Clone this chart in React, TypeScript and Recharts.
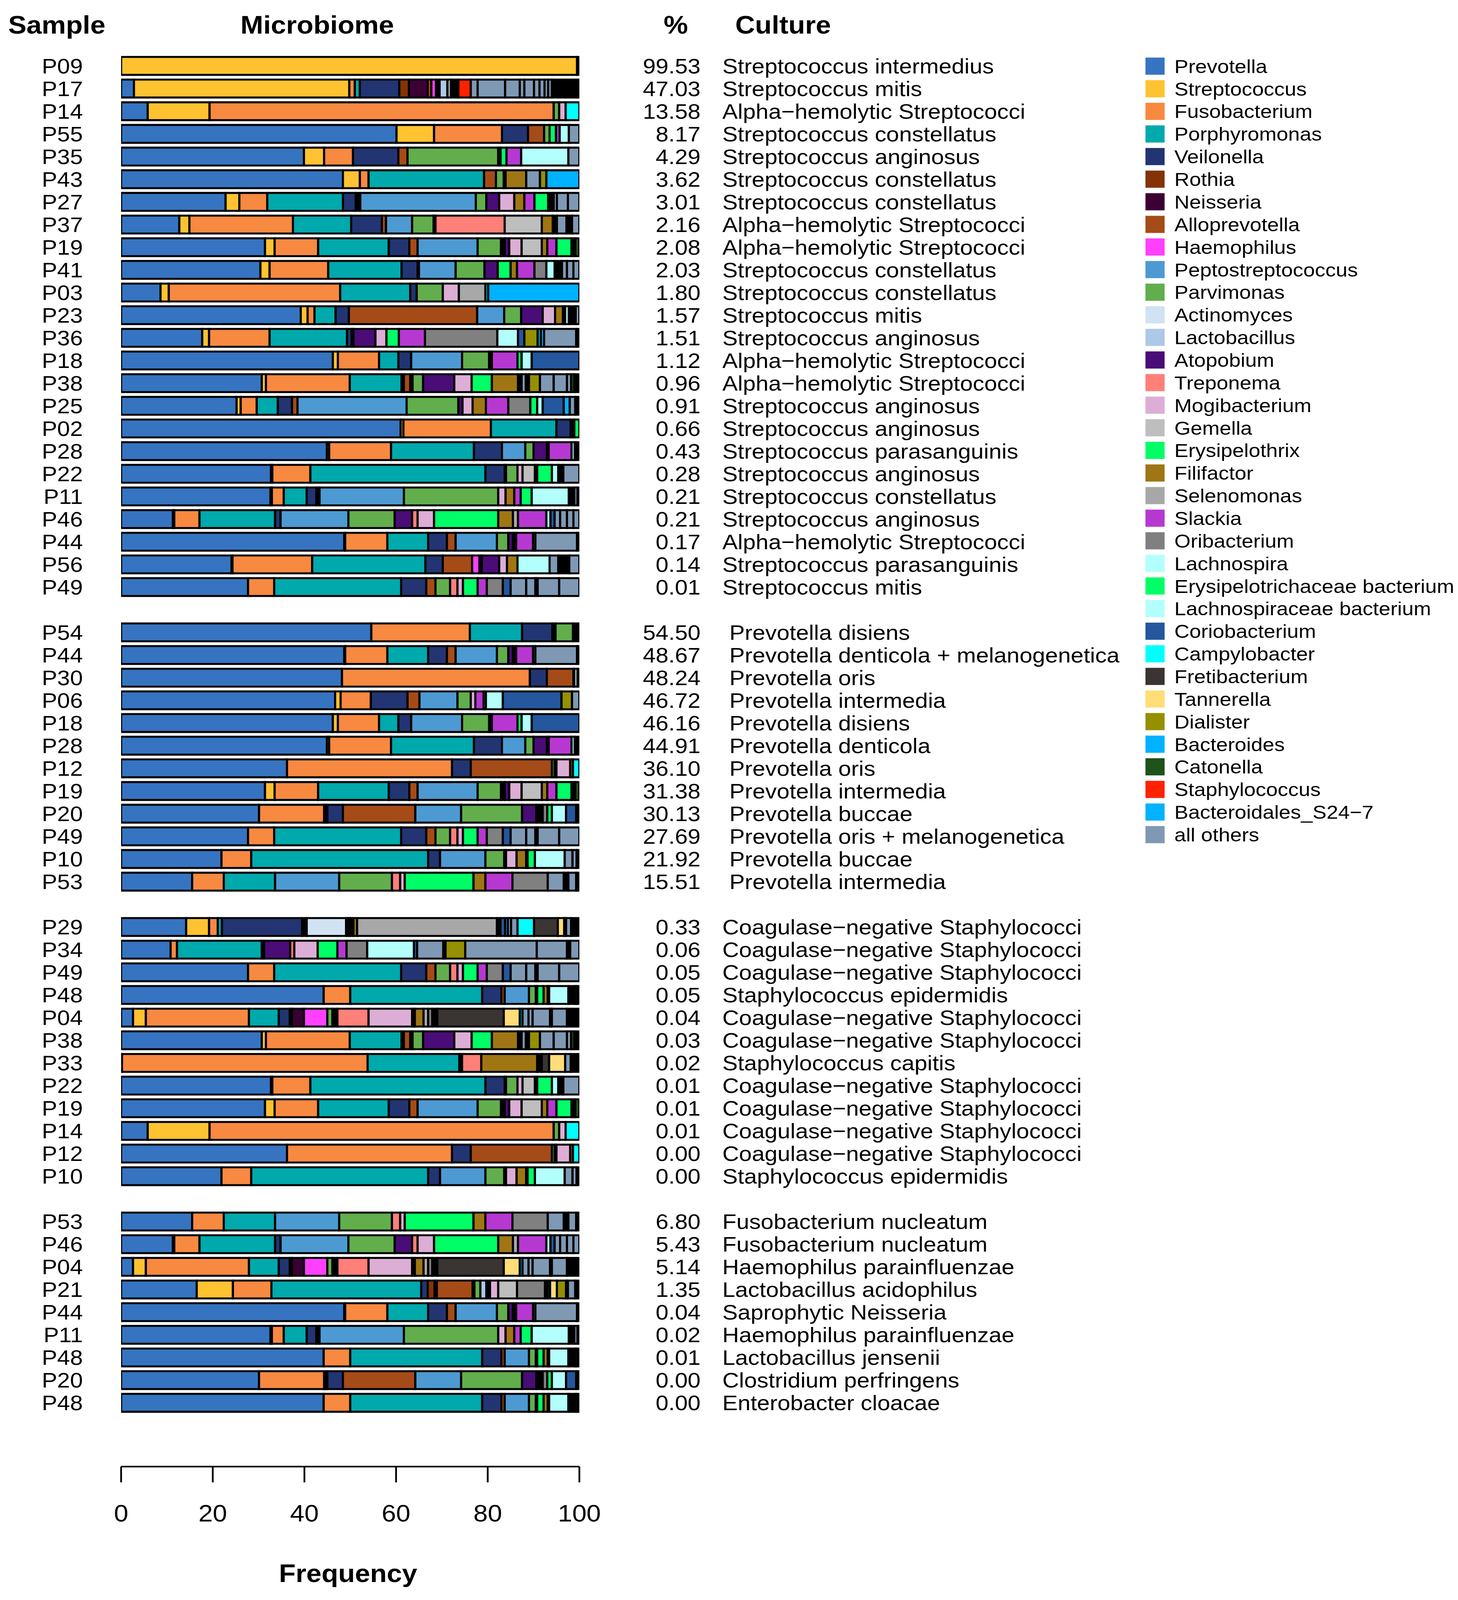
import React from 'react';
import { BarChart, Bar, XAxis, YAxis, Cell, Legend } from 'recharts';

// ---------- taxa (legend order) ----------
const taxa = [
  'Prevotella', 'Streptococcus', 'Fusobacterium', 'Porphyromonas', 'Veilonella', 'Rothia',
  'Neisseria', 'Alloprevotella', 'Haemophilus', 'Peptostreptococcus', 'Parvimonas',
  'Actinomyces', 'Lactobacillus', 'Atopobium', 'Treponema', 'Mogibacterium', 'Gemella',
  'Erysipelothrix', 'Filifactor', 'Selenomonas', 'Slackia', 'Oribacterium', 'Lachnospira',
  'Erysipelotrichaceae bacterium', 'Lachnospiraceae bacterium', 'Coriobacterium',
  'Campylobacter', 'Fretibacterium', 'Tannerella', 'Dialister', 'Bacteroides', 'Catonella',
  'Staphylococcus', 'Bacteroidales_S24\u22127', 'all others',
];
const taxonCodes = [
  'Pv', 'St', 'Fu', 'Po', 'Ve', 'Ro', 'Ne', 'Al', 'Ha', 'Pe', 'Pa', 'Ac', 'La', 'At', 'Tr',
  'Mo', 'Ge', 'Er', 'Fi', 'Se', 'Sl', 'Or', 'Lc', 'Eb', 'Lb', 'Co', 'Ca', 'Fr', 'Ta', 'Di',
  'Ba', 'Ct', 'Sa', 'Bs', 'Ot',
];
const taxaColors = [
  '#3674C1', '#FFC231', '#F88941', '#00A9AC', '#223572', '#843304', '#3B0033', '#A54B18',
  '#FF40FF', '#4D9AD3', '#62AE4D', '#D1E2F2', '#ADC8E8', '#4A0C76', '#FF7F79', '#DCAED6',
  '#BEBEBE', '#00FF66', '#A07614', '#A8A8A8', '#B638D1', '#808080', '#B3FFFB', '#00FF66',
  '#B3FFFB', '#24579D', '#00FFFF', '#3A3432', '#FFDD78', '#949000', '#00B2FF', '#1F521A',
  '#FF2200', '#00B2FF', '#7F99B4',
];
// 'Xx' = runs of many tiny taxa whose outlines merge into solid black
const minorCode = 'Xx';
const minorColor = '#000000';

// ---------- microbiome composition per sample (%), in drawing order ----------
type Seg = [string, number];
const P09: Seg[] = [['St', 99.5], ['Xx', 0.5]];
const P17: Seg[] = [['Pv', 2.8], ['St', 47.0], ['Fu', 1.2], ['Po', 1.1], ['Ve', 8.6], ['Ro', 2.1], ['Ne', 4.1], ['Al', 0.8], ['Ha', 1.0], ['Xx', 0.8], ['La', 1.7], ['Se', 0.8], ['Xx', 1.6], ['Sa', 2.7], ['Ot', 1.5], ['Ot', 6.0], ['Ot', 3.2], ['Ot', 1.0], ['Ot', 2.1], ['Ot', 1.2], ['Ot', 1.1], ['Ot', 0.8], ['Ot', 0.8], ['Xx', 6.0]];
const P14: Seg[] = [['Pv', 5.8], ['St', 13.5], ['Fu', 75.1], ['Pa', 1.2], ['Mo', 1.4], ['Ca', 3.0]];
const P55: Seg[] = [['Pv', 60.1], ['St', 8.2], ['Fu', 14.8], ['Ve', 5.7], ['Al', 3.5], ['Pa', 1.2], ['Er', 1.4], ['Sl', 0.8], ['Lc', 2.0], ['Ot', 2.3]];
const P35: Seg[] = [['Pv', 39.9], ['St', 4.4], ['Fu', 6.3], ['Ve', 9.9], ['Al', 2.0], ['Pa', 19.8], ['Xx', 0.5], ['Er', 1.3], ['Sl', 3.2], ['Lc', 10.3], ['Ot', 2.4]];
const P43: Seg[] = [['Pv', 48.4], ['St', 3.7], ['Fu', 1.9], ['Po', 25.2], ['Al', 2.6], ['Pa', 1.7], ['Xx', 0.4], ['Fi', 4.5], ['Ot', 3.0], ['Di', 1.4], ['Ba', 7.2]];
const P27: Seg[] = [['Pv', 22.8], ['St', 3.0], ['Fu', 6.1], ['Po', 16.5], ['Ve', 2.8], ['Xx', 1.0], ['Pe', 25.2], ['Pa', 2.3], ['At', 2.8], ['Mo', 3.3], ['Fi', 2.2], ['Sl', 2.2], ['Er', 3.0], ['Xx', 1.2], ['Ot', 0.7], ['Ot', 2.4], ['Ot', 2.5]];
const P37: Seg[] = [['Pv', 12.7], ['St', 2.2], ['Fu', 22.6], ['Po', 12.7], ['Ve', 6.7], ['Al', 0.9], ['Pe', 5.7], ['Pa', 4.7], ['Xx', 0.4], ['Tr', 15.1], ['Ge', 8.1], ['Fi', 2.4], ['Xx', 0.9], ['Ot', 2.1], ['Xx', 1.2], ['Ot', 1.6]];
const P19: Seg[] = [['Pv', 31.4], ['St', 2.1], ['Fu', 9.5], ['Po', 15.4], ['Ve', 4.5], ['Al', 1.8], ['Pe', 13.1], ['Pa', 5.1], ['Xx', 0.8], ['At', 1.0], ['Mo', 2.7], ['Ge', 4.4], ['Fi', 1.2], ['Sl', 2.0], ['Er', 3.3], ['Xx', 0.8], ['Ct', 0.9]];
const P41: Seg[] = [['Pv', 30.4], ['St', 2.0], ['Fu', 12.8], ['Po', 16.0], ['Ve', 3.5], ['Xx', 0.3], ['Pe', 8.0], ['Pa', 6.3], ['At', 2.9], ['Er', 2.8], ['Fi', 1.4], ['Sl', 3.8], ['Or', 2.6], ['Lc', 1.8], ['Xx', 1.6], ['Ot', 1.1], ['Ot', 1.4], ['Ot', 1.3]];
const P03: Seg[] = [['Pv', 8.6], ['St', 1.8], ['Fu', 37.4], ['Po', 15.3], ['Ve', 1.4], ['Pa', 5.7], ['Mo', 3.5], ['Se', 5.8], ['Ca', 0.6], ['Ba', 19.9]];
const P23: Seg[] = [['Pv', 39.2], ['St', 1.5], ['Fu', 1.5], ['Po', 4.6], ['Ve', 2.9], ['Al', 28.0], ['Pe', 5.9], ['Pa', 3.7], ['At', 4.7], ['Mo', 2.7], ['Fi', 1.7], ['Xx', 0.5], ['Lc', 0.8], ['Xx', 1.5], ['Ot', 0.8]];
const P36: Seg[] = [['Pv', 17.7], ['St', 1.5], ['Fu', 13.2], ['Po', 16.9], ['Ve', 1.0], ['Xx', 0.4], ['At', 4.8], ['Mo', 2.4], ['Er', 2.7], ['Sl', 5.7], ['Or', 15.8], ['Lc', 4.5], ['Co', 1.4], ['Di', 2.9], ['Ba', 0.7], ['Bs', 0.7], ['Ot', 7.0], ['Xx', 0.7]];
const P18: Seg[] = [['Pv', 46.2], ['St', 1.1], ['Fu', 9.0], ['Po', 4.2], ['Ve', 2.8], ['Pe', 11.1], ['Pa', 5.9], ['Xx', 0.6], ['Sl', 5.6], ['Eb', 0.9], ['Lb', 2.2], ['Co', 10.4]];
const P38: Seg[] = [['Pv', 30.7], ['St', 0.9], ['Fu', 18.3], ['Po', 11.3], ['Xx', 0.5], ['Al', 1.4], ['Ha', 0.5], ['Pa', 2.3], ['At', 6.8], ['Mo', 3.8], ['Er', 4.4], ['Fi', 5.7], ['Xx', 0.8], ['Ot', 0.9], ['Xx', 0.7], ['Di', 2.4], ['Ot', 3.0], ['Ot', 2.9], ['Ot', 0.9], ['Ct', 0.7], ['Xx', 1.1]];
const P25: Seg[] = [['Pv', 25.2], ['St', 0.9], ['Fu', 3.5], ['Po', 4.6], ['Ve', 3.1], ['Al', 1.2], ['Pe', 23.8], ['Pa', 11.3], ['At', 0.9], ['Mo', 2.2], ['Fi', 2.9], ['Sl', 4.9], ['Or', 4.8], ['Eb', 1.5], ['Lb', 1.2], ['Co', 4.6], ['Ba', 1.3], ['Ot', 1.2], ['Xx', 0.9]];
const P02: Seg[] = [['Pv', 61.0], ['St', 0.6], ['Fu', 19.1], ['Po', 14.3], ['Ve', 3.1], ['Xx', 0.8], ['Er', 1.1]];
const P28: Seg[] = [['Pv', 44.9], ['St', 0.5], ['Fu', 13.5], ['Po', 18.1], ['Ve', 6.1], ['Pe', 5.1], ['Pa', 1.8], ['At', 2.9], ['Xx', 0.4], ['Sl', 5.0], ['Lc', 0.7], ['Xx', 1.0]];
const P22: Seg[] = [['Pv', 32.7], ['St', 0.3], ['Fu', 8.3], ['Po', 38.2], ['Ve', 4.2], ['Xx', 0.3], ['Pa', 2.5], ['Mo', 1.1], ['Ge', 2.7], ['Xx', 0.5], ['Er', 3.2], ['Lc', 1.4], ['Xx', 1.1], ['Ot', 3.5]];
const P11: Seg[] = [['Pv', 32.6], ['St', 0.3], ['Fu', 2.6], ['Po', 5.0], ['Ve', 2.1], ['Xx', 0.7], ['Pe', 18.4], ['Pa', 20.6], ['Mo', 1.6], ['Fi', 1.9], ['Sl', 1.4], ['Er', 2.4], ['Lc', 8.1], ['Xx', 1.2], ['Ot', 0.7], ['Xx', 0.4]];
const P46: Seg[] = [['Pv', 11.3], ['St', 0.3], ['Fu', 5.5], ['Po', 16.5], ['Ve', 1.2], ['Pe', 14.8], ['Pa', 10.1], ['At', 3.8], ['Tr', 1.2], ['Mo', 3.6], ['Er', 14.0], ['Fi', 3.2], ['Se', 1.1], ['Sl', 6.2], ['Lc', 0.9], ['Co', 0.9], ['Ot', 1.2], ['Ot', 1.5], ['Ot', 1.4], ['Ot', 1.3]];
const P44: Seg[] = [['Pv', 48.7], ['St', 0.2], ['Fu', 9.2], ['Po', 8.9], ['Ve', 4.1], ['Al', 1.9], ['Pe', 9.0], ['Pa', 2.5], ['At', 1.0], ['Xx', 0.7], ['Sl', 3.7], ['Lc', 0.5], ['Ot', 9.1], ['Xx', 0.5]];
const P56: Seg[] = [['Pv', 24.1], ['St', 0.2], ['Fu', 17.4], ['Po', 24.7], ['Ve', 3.8], ['Al', 6.4], ['Ha', 1.6], ['Xx', 0.5], ['At', 3.8], ['Mo', 1.7], ['Fi', 2.3], ['Lc', 7.0], ['Ot', 1.9], ['Xx', 2.4], ['Ot', 2.2]];
const P49: Seg[] = [['Pv', 27.7], ['Fu', 5.7], ['Po', 27.7], ['Ve', 5.5], ['Al', 2.0], ['Pa', 3.2], ['Tr', 1.6], ['Mo', 1.2], ['Er', 3.2], ['Sl', 2.0], ['Or', 3.5], ['Co', 1.7], ['Ot', 3.4], ['Ot', 2.0], ['Xx', 0.5], ['Ot', 4.7], ['Ot', 4.4]];
const P54: Seg[] = [['Pv', 54.6], ['Fu', 21.5], ['Po', 11.4], ['Ve', 6.6], ['Xx', 0.7], ['Pa', 3.8], ['Xx', 1.4]];
const P30: Seg[] = [['Pv', 48.2], ['Fu', 41.0], ['Ve', 3.7], ['Al', 5.8], ['Xx', 0.2], ['Lc', 0.7], ['Xx', 0.4]];
const P06: Seg[] = [['Pv', 46.7], ['St', 1.2], ['Fu', 6.6], ['Ve', 8.0], ['Al', 2.6], ['Pe', 8.3], ['Pa', 2.9], ['Mo', 1.0], ['Sl', 1.8], ['Eb', 0.5], ['Lb', 3.7], ['Co', 12.8], ['Di', 2.3], ['Ot', 1.6]];
const P12: Seg[] = [['Pv', 36.2], ['Fu', 36.0], ['Ve', 4.1], ['Al', 17.7], ['Pa', 0.6], ['Xx', 0.4], ['Mo', 3.0], ['Fi', 0.6], ['Ca', 1.4]];
const P20: Seg[] = [['Pv', 30.1], ['Fu', 14.2], ['Po', 0.4], ['Xx', 0.3], ['Ve', 3.4], ['Al', 15.8], ['Pe', 10.0], ['Pa', 13.3], ['At', 3.1], ['Xx', 1.4], ['Or', 1.0], ['Er', 1.0], ['Lc', 3.1], ['Co', 2.2], ['Xx', 0.7]];
const P10: Seg[] = [['Pv', 21.9], ['Fu', 6.5], ['Po', 38.6], ['Ve', 2.6], ['Pe', 9.9], ['Pa', 4.1], ['Xx', 0.4], ['Mo', 2.3], ['Fi', 2.1], ['Xx', 0.3], ['Er', 1.6], ['Lc', 6.5], ['Ot', 1.7], ['Ot', 0.9], ['Xx', 0.6]];
const P53: Seg[] = [['Pv', 15.5], ['Fu', 6.9], ['Po', 11.2], ['Pe', 14.0], ['Pa', 11.5], ['Tr', 1.8], ['Mo', 1.0], ['Er', 15.0], ['Fi', 2.6], ['Sl', 5.9], ['Or', 7.7], ['Ot', 3.5], ['Xx', 1.0], ['Ot', 1.7], ['Xx', 0.7]];
const P29: Seg[] = [['Pv', 14.2], ['St', 5.0], ['Fu', 1.9], ['Po', 0.9], ['Ve', 17.5], ['Xx', 1.0], ['Ac', 8.6], ['At', 0.5], ['Tr', 0.4], ['Xx', 0.7], ['Fi', 0.8], ['Se', 30.5], ['Xx', 0.8], ['Co', 1.0], ['Ba', 0.6], ['Ot', 0.7], ['Ot', 1.4], ['Ca', 3.6], ['Fr', 5.2], ['Ta', 1.4], ['Xx', 0.4], ['Ot', 1.1], ['Xx', 1.8]];
const P34: Seg[] = [['Pv', 10.8], ['Fu', 1.4], ['Po', 18.5], ['Xx', 0.5], ['At', 5.7], ['Tr', 0.9], ['Mo', 5.1], ['Er', 4.3], ['Sl', 2.0], ['Or', 4.5], ['Lc', 10.2], ['Co', 0.7], ['Ot', 5.7], ['Xx', 0.5], ['Di', 4.3], ['Ot', 15.6], ['Ot', 6.6], ['Xx', 0.7], ['Ot', 2.0]];
const P48: Seg[] = [['Pv', 44.2], ['Fu', 5.8], ['Po', 28.8], ['Ve', 4.2], ['Al', 0.7], ['Pe', 5.3], ['Pa', 1.5], ['Xx', 0.3], ['Er', 1.4], ['Fi', 0.9], ['Xx', 0.3], ['Lc', 4.2], ['Xx', 1.4], ['Ot', 0.5], ['Xx', 0.5]];
const P04: Seg[] = [['Pv', 2.6], ['St', 2.8], ['Fu', 22.5], ['Po', 6.5], ['Ve', 2.4], ['Xx', 0.5], ['Ne', 2.6], ['Ha', 5.1], ['Pa', 1.1], ['Xx', 1.1], ['Tr', 6.8], ['Mo', 9.5], ['Xx', 0.6], ['Fi', 1.9], ['Se', 1.0], ['Or', 0.9], ['Xx', 1.1], ['Fr', 14.5], ['Ta', 3.5], ['Ba', 0.6], ['Ot', 1.3], ['Ot', 0.9], ['Ot', 3.8], ['Xx', 0.4], ['Ot', 3.3], ['Xx', 2.7]];
const P33: Seg[] = [['Pv', 0.2], ['Fu', 53.6], ['Po', 20.0], ['Xx', 0.6], ['Tr', 4.2], ['Fi', 12.2], ['Xx', 1.0], ['Fr', 1.6], ['Ta', 3.5], ['Ot', 1.2], ['Xx', 1.9]];
const P21: Seg[] = [['Pv', 16.5], ['St', 7.9], ['Fu', 8.4], ['Po', 32.7], ['Ve', 1.4], ['Ro', 1.5], ['Xx', 0.5], ['Al', 7.8], ['Xx', 0.4], ['Pa', 1.3], ['La', 1.3], ['Xx', 0.8], ['Mo', 1.8], ['Ge', 4.1], ['Or', 6.1], ['Xx', 0.6], ['Ca', 0.5], ['Ta', 1.5], ['Di', 2.0], ['Xx', 0.4], ['Ot', 1.6], ['Xx', 0.9]];

const compositions: Record<string, Seg[]> = {
  P09, P17, P14, P55, P35, P43, P27, P37, P19, P41, P03, P23, P36, P18, P38, P25, P02, P28,
  P22, P11, P46, P44, P56, P49, P54, P30, P06, P12, P20, P10, P53, P29, P34, P48, P04, P33, P21,
};

// ---------- row groups: sample, culture %, culture organism ----------
const group1Samples = ['P09', 'P17', 'P14', 'P55', 'P35', 'P43', 'P27', 'P37', 'P19', 'P41', 'P03', 'P23', 'P36', 'P18', 'P38', 'P25', 'P02', 'P28', 'P22', 'P11', 'P46', 'P44', 'P56', 'P49'];
const group1Percent = [99.53, 47.03, 13.58, 8.17, 4.29, 3.62, 3.01, 2.16, 2.08, 2.03, 1.80, 1.57, 1.51, 1.12, 0.96, 0.91, 0.66, 0.43, 0.28, 0.21, 0.21, 0.17, 0.14, 0.01];
const group1Culture = [
  'Streptococcus intermedius', 'Streptococcus mitis', 'Alpha\u2212hemolytic Streptococci',
  'Streptococcus constellatus', 'Streptococcus anginosus', 'Streptococcus constellatus',
  'Streptococcus constellatus', 'Alpha\u2212hemolytic Streptococci', 'Alpha\u2212hemolytic Streptococci',
  'Streptococcus constellatus', 'Streptococcus constellatus', 'Streptococcus mitis',
  'Streptococcus anginosus', 'Alpha\u2212hemolytic Streptococci', 'Alpha\u2212hemolytic Streptococci',
  'Streptococcus anginosus', 'Streptococcus anginosus', 'Streptococcus parasanguinis',
  'Streptococcus anginosus', 'Streptococcus constellatus', 'Streptococcus anginosus',
  'Alpha\u2212hemolytic Streptococci', 'Streptococcus parasanguinis', 'Streptococcus mitis',
];
const group2Samples = ['P54', 'P44', 'P30', 'P06', 'P18', 'P28', 'P12', 'P19', 'P20', 'P49', 'P10', 'P53'];
const group2Percent = [54.50, 48.67, 48.24, 46.72, 46.16, 44.91, 36.10, 31.38, 30.13, 27.69, 21.92, 15.51];
const group2Culture = [
  'Prevotella disiens', 'Prevotella denticola + melanogenetica', 'Prevotella oris',
  'Prevotella intermedia', 'Prevotella disiens', 'Prevotella denticola', 'Prevotella oris',
  'Prevotella intermedia', 'Prevotella buccae', 'Prevotella oris + melanogenetica',
  'Prevotella buccae', 'Prevotella intermedia',
];
const CNS = 'Coagulase\u2212negative Staphylococci';
const group3Samples = ['P29', 'P34', 'P49', 'P48', 'P04', 'P38', 'P33', 'P22', 'P19', 'P14', 'P12', 'P10'];
const group3Percent = [0.33, 0.06, 0.05, 0.05, 0.04, 0.03, 0.02, 0.01, 0.01, 0.01, 0.00, 0.00];
const group3Culture = [CNS, CNS, CNS, 'Staphylococcus epidermidis', CNS, CNS, 'Staphylococcus capitis', CNS, CNS, CNS, CNS, 'Staphylococcus epidermidis'];
const group4Samples = ['P53', 'P46', 'P04', 'P21', 'P44', 'P11', 'P48', 'P20', 'P48'];
const group4Percent = [6.80, 5.43, 5.14, 1.35, 0.04, 0.02, 0.01, 0.00, 0.00];
const group4Culture = [
  'Fusobacterium nucleatum', 'Fusobacterium nucleatum', 'Haemophilus parainfluenzae',
  'Lactobacillus acidophilus', 'Saprophytic Neisseria', 'Haemophilus parainfluenzae',
  'Lactobacillus jensenii', 'Clostridium perfringens', 'Enterobacter cloacae',
];
const xTicks = [0, 20, 40, 60, 80, 100];

// ---------- layout constants ----------
const W = 3732;
const H = 4474;
const FONT = '"Liberation Sans", Arial, Helvetica, sans-serif';
const ROW_FONT = 59;
const SAMPLE_X = 212;
const PCT_X = 1793;
const CULTURE_X = [1849, 1867, 1849, 1849];

const colorOf = (code: string) =>
  code === minorCode ? minorColor : taxaColors[taxonCodes.indexOf(code)];

const groups = [
  { samples: group1Samples, pct: group1Percent, culture: group1Culture },
  { samples: group2Samples, pct: group2Percent, culture: group2Culture },
  { samples: group3Samples, pct: group3Percent, culture: group3Culture },
  { samples: group4Samples, pct: group4Percent, culture: group4Culture },
];

const rows: any[] = [];
groups.forEach((g, gi) => {
  if (gi > 0) rows.push({ id: `gap${gi}`, gap: true });
  g.samples.forEach((s, i) => {
    const row: any = { id: `r${gi}_${i}`, sample: s, pct: g.pct[i], culture: g.culture[i], cx: CULTURE_X[gi] };
    (compositions[s] || []).forEach(([code, v], k) => {
      row[`s${k}`] = v;
      row[`c${k}`] = colorOf(code);
    });
    rows.push(row);
  });
});
const rowById: Record<string, any> = {};
rows.forEach((r) => { rowById[r.id] = r; });
const maxSegs = Math.max(...Object.values(compositions).map((c) => c.length));

const RowTick = (props: any) => {
  const { y, payload } = props;
  const r = rowById[payload?.value];
  if (!r || r.gap) return <g />;
  const base = y + 21;
  return (
    <g>
      <text x={SAMPLE_X} y={base} textAnchor="end" fontSize={ROW_FONT} fontFamily={FONT} fill="#000">{r.sample}</text>
      <text x={PCT_X} y={base} textAnchor="end" fontSize={ROW_FONT} fontFamily={FONT} fill="#000">{r.pct.toFixed(2)}</text>
      <text x={r.cx} y={base} textAnchor="start" fontSize={ROW_FONT} fontFamily={FONT} fill="#000">{r.culture}</text>
    </g>
  );
};

const XTick = (props: any) => {
  const { x, payload } = props;
  return (
    <text x={x} y={4254} textAnchor="middle" fontSize={66} fontFamily={FONT} fill="#000">{payload.value}</text>
  );
};

const LegendBlock = () => (
  <svg width={832} height={2300} style={{ display: 'block' }}>
    {taxa.map((t, i) => {
      const cy = 45 + i * 63.2;
      return (
        <g key={t}>
          <rect x={32} y={cy - 24} width={49} height={48} fill={taxaColors[i]} />
          <text x={106} y={cy + 19} fontSize={53.5} fontFamily={FONT} fill="#000">{t}</text>
        </g>
      );
    })}
  </svg>
);

export default function App() {
  // The page viewport may be shorter than the 4474px design; fit the design vertically.
  const viewH = typeof window !== 'undefined' && window.innerHeight > 0 ? window.innerHeight : H;
  const sy = Math.min(1, viewH / H);
  return (
    <div style={{ width: W, height: Math.floor(H * sy), overflow: 'hidden', background: '#fff' }}>
      <style>{'html,body{margin:0;background:#fff;overflow:hidden}'}</style>
      <div
        style={{
          position: 'relative',
          width: W,
          height: H,
          background: '#fff',
          fontFamily: FONT,
          transform: `scaleY(${sy})`,
          transformOrigin: '0 0',
        }}
      >
        <BarChart
          width={W}
          height={H}
          data={rows}
          layout="vertical"
          margin={{ top: 152.3, right: W - 1483, bottom: 343, left: 309 }}
          barSize={50}
        >
          <XAxis
            type="number"
            domain={[0, 100]}
            ticks={xTicks}
            allowDataOverflow
            height={30}
            axisLine={{ stroke: '#000', strokeWidth: 4.5 }}
            tickLine={{ stroke: '#000', strokeWidth: 4.5 }}
            tickSize={44}
            tick={<XTick />}
          />
          <YAxis
            type="category"
            dataKey="id"
            width={1}
            axisLine={false}
            tickLine={false}
            interval={0}
            padding={{ top: 0, bottom: 147 }}
            tick={<RowTick />}
          />
          {Array.from({ length: maxSegs }).map((_, k) => (
            <Bar
              key={k}
              dataKey={`s${k}`}
              stackId="a"
              isAnimationActive={false}
              stroke="#000"
              strokeWidth={5.5}
            >
              {rows.map((r, i) => (
                <Cell key={i} fill={r[`c${k}`] || '#000'} />
              ))}
            </Bar>
          ))}
          <Legend
            layout="vertical"
            align="center"
            verticalAlign="middle"
            content={() => <LegendBlock />}
            wrapperStyle={{ position: 'absolute', left: 2900, top: 140, width: 832, height: 2300, margin: 0 }}
          />
        </BarChart>
        <svg width={W} height={H} style={{ position: 'absolute', left: 0, top: 0, pointerEvents: 'none' }}>
          <g fontFamily={FONT} fontWeight="bold" fontSize={70} fill="#000">
            <text x={21} y={94}>Sample</text>
            <text x={812} y={94} textAnchor="middle">Microbiome</text>
            <text x={1730} y={94} textAnchor="middle">%</text>
            <text x={1882} y={94}>Culture</text>
            <text x={891} y={4424} textAnchor="middle">Frequency</text>
          </g>
        </svg>
      </div>
    </div>
  );
}
